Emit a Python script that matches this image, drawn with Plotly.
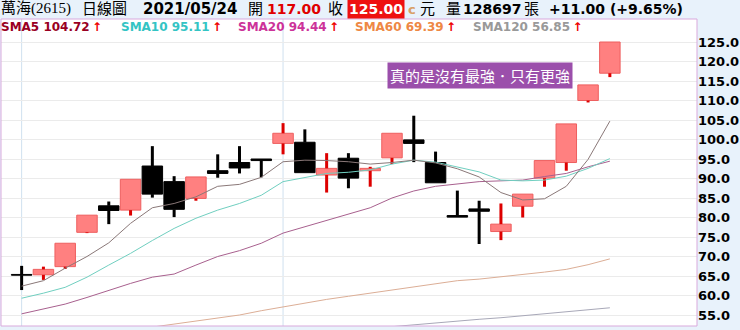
import plotly.graph_objects as go

# ---------------- data ----------------
idx = list(range(28))
opens  = [65.4, 65.3, 67.4, 76.2, 83.0, 81.9, 93.2, 89.2, 84.9, 92.0, 94.1, 95.0, 99.0, 99.3,
          90.9, 95.2, 92.0, 95.3, 99.9, 94.1, 80.5, 82.2, 76.4, 82.9, 90.1, 94.1, 110.0, 117.0]
highs  = [67.6, 67.4, 73.4, 80.6, 84.1, 89.8, 98.3, 90.6, 90.4, 96.2, 98.3, 95.0, 104.2, 102.6,
          96.5, 96.5, 93.0, 101.6, 106.1, 96.9, 86.9, 84.3, 83.6, 86.0, 94.6, 104.0, 114.0, 125.0]
lows   = [61.4, 64.0, 66.8, 76.0, 78.3, 80.5, 85.1, 80.1, 84.3, 90.2, 91.3, 90.3, 96.2, 91.5,
          86.4, 87.5, 87.9, 93.7, 94.2, 88.9, 80.1, 73.2, 74.2, 80.0, 87.9, 92.0, 109.5, 116.0]
closes = [65.2, 66.7, 73.4, 80.6, 81.8, 89.8, 86.0, 82.1, 90.4, 91.3, 92.7, 94.6, 101.6, 91.5,
          92.6, 90.1, 92.6, 101.6, 99.0, 88.9, 80.1, 81.6, 78.3, 86.0, 94.6, 104.0, 114.0, 125.0]

sma5   = [62.4, 63.8, 67.0, 70.0, 73.5, 78.5, 82.5, 83.6, 85.3, 88.0, 88.5, 90.3, 94.3, 94.7,
          94.6, 94.3, 93.7, 94.1, 94.7, 94.0, 92.5, 90.4, 86.4, 84.5, 84.8, 88.0, 94.9, 104.72]
sma10  = [59.3, 60.6, 62.1, 64.7, 67.8, 70.8, 74.1, 77.2, 79.8, 81.9, 83.6, 85.7, 89.2, 90.2,
          91.3, 91.6, 92.2, 93.7, 94.7, 94.2, 93.0, 91.7, 89.6, 89.4, 89.6, 90.6, 92.6, 95.11]
sma20  = [55.3, 56.5, 57.8, 59.5, 61.4, 63.1, 64.7, 65.5, 67.8, 70.0, 71.5, 73.4, 76.0, 77.6,
          79.4, 80.8, 82.5, 85.0, 86.8, 88.0, 88.6, 89.2, 89.4, 89.6, 90.5, 91.3, 93.0, 94.44]
sma60  = [None, None, None, None, None, None, 51.9, 52.7, 53.4, 54.2, 55.0, 56.1, 57.1, 58.0,
          59.0, 59.8, 60.6, 61.5, 62.3, 63.0, 63.8, 64.2, 64.8, 65.3, 66.0, 66.7, 67.9, 69.39]
sma120 = [None, None, None, None, None, None, None, None, None, None, None, None, None, None,
          None, None, None, 52.0, 52.5, 53.0, 53.4, 53.9, 54.3, 54.8, 55.2, 55.7, 56.2, 56.85]

tick_vals = [55, 60, 65, 70, 75, 80, 85, 90, 95, 100, 105, 110, 115, 120, 125]
tick_text = [f"{v:.1f}" for v in tick_vals]
month_start_idx = [0, 12]

# ---------------- geometry helpers ----------------
W, H = 740, 330
ML, MR, MT, MB = 1, 41, 19, 4
PW, PH = W - ML - MR, H - MT - MB


def xp(px):
    return (px - ML) / PW


def yp(py):
    return 1 - (py - MT) / PH


RED_BODY = "#ff8080"
RED_EDGE = "#ee5f5f"
RED_WICK = "#dd0000"

up = [c >= o for o, c in zip(opens, closes)]

fig = go.Figure()

# bodies
fig.add_trace(go.Bar(
    x=idx, y=[c - o for o, c in zip(opens, closes)], base=opens, width=0.94,
    marker=dict(color=[RED_BODY if u else "#000000" for u in up],
                line=dict(color=[RED_EDGE if u else "#000000" for u in up], width=1)),
    showlegend=False, hoverinfo="skip"))

# wicks (only the parts outside the body)
for is_up, col in [(True, RED_WICK), (False, "#000000")]:
    xs, ys = [], []
    for i in idx:
        if up[i] == is_up:
            top, bot = max(opens[i], closes[i]), min(opens[i], closes[i])
            if highs[i] > top:
                xs += [i, i, None]
                ys += [top, highs[i], None]
            if lows[i] < bot:
                xs += [i, i, None]
                ys += [lows[i], bot, None]
    fig.add_trace(go.Scatter(x=xs, y=ys, mode="lines", line=dict(color=col, width=3),
                             hoverinfo="skip", showlegend=False))

# moving averages
for vals, col in [(sma120, "#a8a8b8"), (sma60, "#dcae96"), (sma20, "#a8608e"),
                  (sma10, "#70cfc0"), (sma5, "#8a7878")]:
    fig.add_trace(go.Scatter(x=idx, y=vals, mode="lines", line=dict(color=col, width=1),
                             connectgaps=False, hoverinfo="skip", showlegend=False))

shapes = []
for m in month_start_idx:
    shapes.append(dict(type="line", xref="x", yref="paper", x0=m, x1=m, y0=0, y1=1,
                       line=dict(color="#cfe1ef", width=1), layer="below"))
shapes.append(dict(type="rect", xref="paper", yref="paper", x0=0, x1=1, y0=0, y1=1,
                   line=dict(color="#d9a9dc", width=1)))

SERIF = "Liberation Serif, Noto Sans CJK TC"
BOLD = "DejaVu Sans"
CJK = "Noto Sans CJK TC"

ann = []


def txt(px, py, text, color="#000000", size=14, family=BOLD, weight="normal", bg=None, pad=0):
    d = dict(xref="paper", yref="paper", x=xp(px), y=yp(py), xanchor="left", yanchor="middle",
             text=text, showarrow=False, borderpad=0,
             font=dict(family=family, size=size, color=color, weight=weight))
    if bg:
        d["bgcolor"] = bg
        d["borderpad"] = pad
    ann.append(d)


# header row
txt(0, 9, "萬海(2615)", size=15, family=SERIF)
txt(81, 9, "日線圖", size=15, family=SERIF)
txt(142, 9, "2021/05/24", size=15, weight="bold")
txt(248, 9, "開", size=15, family=SERIF)
txt(267, 9, "117.00", color="#e00000", size=14, weight="bold")
txt(328, 9, "收", size=15, family=SERIF)
txt(348, 9, "125.00", color="#ffffff", size=14, weight="bold", bg="#ee1111", pad=1)
txt(408, 10, "c", color="#d9a066", size=13, weight="bold")
txt(420, 9, "元", size=15, family=SERIF)
txt(446, 9, "量", size=15, family=SERIF)
txt(463, 9, "128697", size=14, weight="bold")
txt(525, 9, "張", size=15, family=SERIF)
txt(550, 9, "+11.00 (+9.65%)", size=14, weight="bold")

# MA legend row
legend_items = [(0, "SMA5 104.72", "#990022"), (120, "SMA10 95.11", "#33c4c4"),
                (238, "SMA20 94.44", "#cc3399"), (355, "SMA60 69.39", "#ee8844"),
                (473, "SMA120 56.85", "#999999")]
for px, t, c in legend_items:
    txt(px, 27, f"<span style='color:{c}'>{t}</span><span style='color:#ee0000'>\u2009↑</span>",
        size=12, weight="bold")

# annotation box
ann.append(dict(xref="paper", yref="paper", x=xp(388), y=yp(75), xanchor="left", yanchor="middle",
                text="真的是沒有最強．只有更強", showarrow=False, bgcolor="#9b4fab", borderpad=2,
                font=dict(family=CJK, size=15, color="#ffffff")))

fig.update_layout(
    width=W, height=H, autosize=False,
    margin=dict(l=ML, r=MR, t=MT, b=MB),
    paper_bgcolor="#e8f2fb", plot_bgcolor="#ffffff",
    showlegend=False, barmode="overlay",
    shapes=shapes, annotations=ann,
    xaxis=dict(range=[-0.947, 31.0], showticklabels=False, showgrid=False, zeroline=False,
               ticks="", fixedrange=True),
    yaxis=dict(side="right", range=[52.18, 130.9], tickvals=tick_vals, ticktext=tick_text,
               showgrid=True, gridcolor="#ebebeb", gridwidth=1, zeroline=False, ticks="",
               tickfont=dict(family=BOLD, size=13, color="#000000", weight="bold"),
               fixedrange=True),
)

fig.write_html("out.html")
